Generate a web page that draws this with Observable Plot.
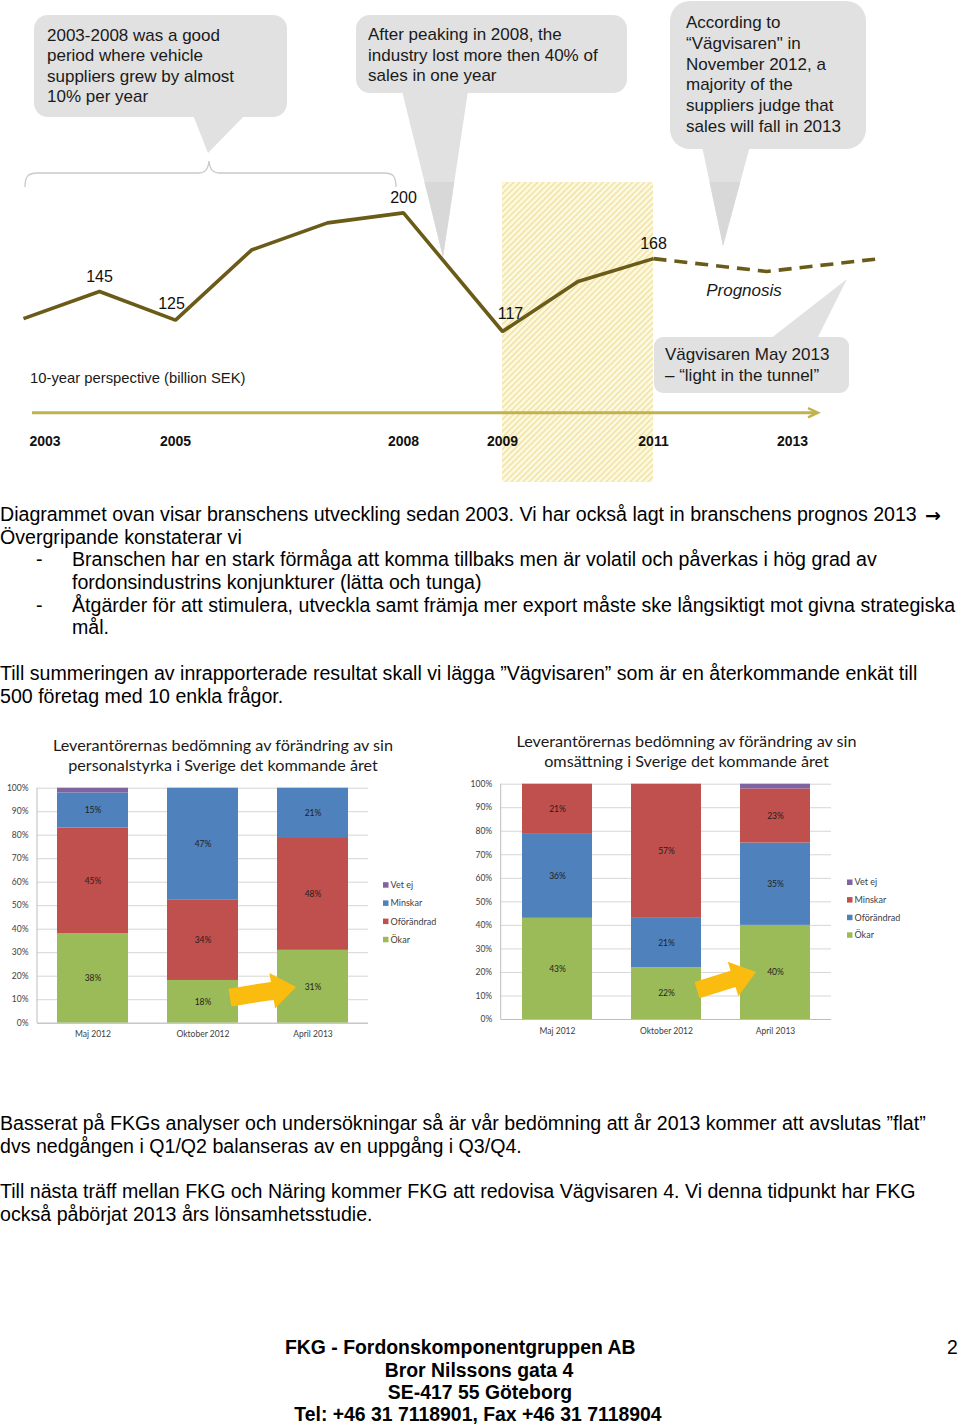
<!DOCTYPE html>
<html><head><meta charset="utf-8">
<script src="https://cdn.jsdelivr.net/npm/d3@7"></script>
<script src="https://cdn.jsdelivr.net/npm/@observablehq/plot@0.6"></script>
<style>
body{margin:0;background:#fff;}
#page{position:relative;width:960px;height:1426px;overflow:hidden;background:#fff;color:#000;}
.abs{position:absolute;white-space:pre;}
</style></head>
<body>
<svg width="0" height="0" style="position:absolute">
  <defs>
    <pattern id="hatch" patternUnits="userSpaceOnUse" width="4.2" height="4.2" patternTransform="rotate(45)">
      <rect width="4.2" height="4.2" fill="#fdf8e0"/>
      <line x1="0.8" y1="0" x2="0.8" y2="4.2" stroke="#f0e3a4" stroke-width="1.5"/>
    </pattern>
  </defs>
</svg>
<div id="page">
  <div id="topChart" class="abs" style="left:0;top:0"></div>
  <div id="staffChart" class="abs" style="left:0;top:730px"></div>
  <div id="salesChart" class="abs" style="left:460px;top:726px"></div>
</div>
<script>
const FONT = "'Liberation Sans', Arial, Helvetica, sans-serif";
const CFONT = "Lato, 'Open Sans', sans-serif";

// ---------- Top chart data (billion SEK) ----------
const years = [2003, 2004, 2005, 2006, 2007, 2008, 2009, 2010, 2011];
const sales = [126, 145, 125, 174, 193, 200, 117, 152, 168];
const prognosisYears = [2011, 2012.5, 2014];
const prognosisSales = [168, 159, 168];
const labeledYears = [2004, 2005, 2008, 2009, 2011];
const axisYears = [2003, 2005, 2008, 2009, 2011, 2013];
const crisisPeriod = [2009, 2011];

// ---------- Survey charts data (%) ----------
const periods = ["Maj 2012", "Oktober 2012", "April 2013"];
const stackOrder = ["Ökar", "Oförändrad", "Minskar", "Vet ej"];
const legendOrder = ["Vet ej", "Minskar", "Oförändrad", "Ökar"];
const pctTicks = [0, 10, 20, 30, 40, 50, 60, 70, 80, 90, 100];

const staffOkar = [38, 18, 31];
const staffOforandrad = [45, 34, 48];
const staffMinskar = [15, 47, 21];
const staffVetEj = [2, 0, 0];

const salesOkar = [43, 22, 40];
const salesOforandrad = [36, 21, 35];
const salesMinskar = [21, 57, 23];
const salesVetEj = [0, 0, 2];

const PURPLE = "#8064a2", BLUE = "#4f81bd", RED = "#c0504d", GREEN = "#9bbb59";
const LINE = "#6b5b18";

// ---------- Top chart ----------
const lineData = years.map((year, i) => ({year, value: sales[i]}));
const progData = prognosisYears.map((year, i) => ({year, value: prognosisSales[i]}));
const labelData = lineData.filter(d => labeledYears.includes(d.year));

function topAnnotations(index, scales, values, dims) {
  const g = d3.create("svg:g").attr("font-family", FONT).attr("text-anchor", "start");
  const bub = "#e1e1e1";
  g.append("path")
    .attr("d", "M25,187 C25,176 28,173 38,173 L198,173 C205,173 208,170 209,161 C210,170 213,173 220,173 L384,173 C393,173 396,176 396,187")
    .attr("fill", "none").attr("stroke", "#c9c9c9").attr("stroke-width", 1.3);
  const bubbles = [
    {x: 34, y: 15, w: 253, h: 102, r: 14, tri: [[193, 115], [245, 115], [208, 153]], tx: 47, base: 40.7, step: 20.4,
      lines: ["2003-2008 was a good", "period where vehicle", "suppliers grew by almost", "10% per year"]},
    {x: 356, y: 15, w: 271, h: 78, r: 14, tri: [[402, 91], [468, 91], [443, 257]], tx: 368, base: 40.3, step: 20.5,
      lines: ["After peaking in 2008, the", "industry lost more then 40% of", "sales in one year"]},
    {x: 670, y: 1, w: 196, h: 148, r: 20, tri: [[702, 146], [750, 146], [723, 246]], tx: 686, base: 28.3, step: 20.7,
      lines: ["According to", "\u201cV\u00e4gvisaren\" in", "November 2012, a", "majority of the", "suppliers judge that", "sales will fall in 2013"]},
    {x: 654, y: 337, w: 195, h: 56, r: 9, tri: [[770, 339], [817, 339], [847, 279]], tx: 665, base: 360, step: 20.7,
      lines: ["V\u00e4gvisaren May 2013", "\u2013 \u201clight in the tunnel\u201d"]}
  ];
  const cutY = 182;
  for (const b of bubbles) {
    g.append("path").attr("d", "M" + b.tri.map(p => p.join(",")).join("L") + "Z").attr("fill", bub);
    // slightly darker lower part of long pointers (below the brace level)
    const [p1, p2, tip] = b.tri;
    if (p1[1] < cutY && tip[1] > cutY) {
      const ix = p => p[0] + (tip[0] - p[0]) * (cutY - p[1]) / (tip[1] - p[1]);
      g.append("path").attr("d", `M${ix(p1)},${cutY}L${ix(p2)},${cutY}L${tip[0]},${tip[1]}Z`).attr("fill", "#d8d8d8");
    }
    g.append("rect").attr("x", b.x).attr("y", b.y).attr("width", b.w).attr("height", b.h)
      .attr("rx", b.r).attr("ry", b.r).attr("fill", bub);
    const t = g.append("text").attr("font-size", 17).attr("fill", "#1a1a1a").attr("text-anchor", "start");
    b.lines.forEach((s, i) => t.append("tspan").attr("x", b.tx).attr("y", b.base + i * b.step).text(s));
  }
  g.append("text").attr("x", 744).attr("y", 296).attr("text-anchor", "middle")
    .attr("font-size", 17).attr("font-style", "italic").attr("fill", "#1a1a1a").text("Prognosis");
  g.append("text").attr("x", 30).attr("y", 383).attr("font-size", 14.8).attr("fill", "#1a1a1a")
    .attr("text-anchor", "start").text("10-year perspective (billion SEK)");
  const x0 = scales.x(2003) + 9, x1 = scales.x(2013) + 14, ya = 412.7;
  g.append("line").attr("x1", x0).attr("x2", x1 - 1).attr("y1", ya).attr("y2", ya)
    .attr("stroke", "#c2b24f").attr("stroke-width", 3);
  g.append("path").attr("d", `M${x1 - 10},${ya - 4.6} L${x1},${ya} L${x1 - 10},${ya + 4.6}`)
    .attr("fill", "none").attr("stroke", "#c2b24f").attr("stroke-width", 2.4);
  return g.node();
}

const yearText = {x: d => d, text: d => String(d), frameAnchor: "bottom", dy: -37, fontWeight: "bold", fontSize: 14, fill: "#111"};
const valueText = {x: "year", y: "value", text: d => String(d.value), fontSize: 16, fill: "#111"};
const topChart = Plot.plot({
  width: 960, height: 485,
  marginTop: 182, marginBottom: 3, marginLeft: 0, marginRight: 0,
  x: {type: "linear", domain: [2003, 2008, 2009, 2011], range: [23, 403, 502, 653], axis: null},
  y: {type: "linear", domain: [117, 200], range: [331, 212.4], axis: null},
  style: {fontFamily: FONT, fontSize: "16px", background: "transparent", overflow: "visible", color: "#111"},
  marks: [
    Plot.rect([crisisPeriod], {x1: d => d[0], x2: d => d[1], fill: "url(#hatch)"}),
    topAnnotations,
    Plot.line(lineData, {x: "year", y: "value", stroke: LINE, strokeWidth: 3.6, strokeLinejoin: "miter", strokeLinecap: "butt"}),
    Plot.line(progData, {x: "year", y: "value", stroke: LINE, strokeWidth: 3.6, strokeDasharray: "13,8", strokeLinecap: "butt"}),
    Plot.text(labelData.filter(d => d.year !== 2009 && d.year !== 2005), {...valueText, dy: -15}),
    Plot.text(labelData.filter(d => d.year === 2005), {...valueText, dy: -16, dx: -4}),
    Plot.text(labelData.filter(d => d.year === 2009), {...valueText, dy: -18, dx: 8}),
    Plot.text(axisYears.slice(1, -1), yearText),
    Plot.text(axisYears.slice(0, 1), {...yearText, textAnchor: "start", dx: 6}),
    Plot.text(axisYears.slice(-1), {...yearText, dx: -12})
  ]
});
document.getElementById("topChart").appendChild(topChart);

// ---------- Survey charts ----------
function buildData(okar, ofor, minskar, vetej) {
  const out = [];
  periods.forEach((p, i) => {
    out.push({period: p, cat: "Ökar", value: okar[i]});
    out.push({period: p, cat: "Oförändrad", value: ofor[i]});
    out.push({period: p, cat: "Minskar", value: minskar[i]});
    out.push({period: p, cat: "Vet ej", value: vetej[i]});
  });
  return out;
}

function decor(cfg) {
  return (index, scales, values, dims) => {
    const g = d3.create("svg:g").attr("font-family", CFONT).attr("text-anchor", "start");
    g.append("line").attr("x1", dims.marginLeft).attr("x2", dims.marginLeft)
      .attr("y1", dims.marginTop).attr("y2", dims.height - dims.marginBottom).attr("stroke", "#bdbdbd");
    const t = g.append("text").attr("font-size", 16.2).attr("fill", "#1a1a1a").attr("text-anchor", "middle");
    cfg.title.forEach((s, i) => t.append("tspan").attr("x", cfg.titleX).attr("y", cfg.titleBase + i * 20.2).text(s));
    legendOrder.forEach((c, i) => {
      const y = cfg.legY + i * cfg.legStep;
      g.append("rect").attr("x", cfg.legX).attr("y", y - 2.8).attr("width", 5.5).attr("height", 5.5)
        .attr("fill", cfg.colors[legendOrder.indexOf(c)]);
      g.append("text").attr("x", cfg.legX + 7.5).attr("y", y).attr("dy", "0.35em").attr("text-anchor", "start")
        .attr("font-size", 9).attr("fill", "#404040").text(c);
    });
    const sx = scales.x, sy = scales.y;
    const bw = typeof sx.bandwidth === "function" ? sx.bandwidth() : 0;
    const a = cfg.arrow;
    const x1 = sx(a.from) + bw + a.dx1, y1 = sy(a.y1);
    const x2 = sx(a.to) + a.dx2, y2 = sy(a.y2);
    const len = Math.hypot(x2 - x1, y2 - y1), ux = (x2 - x1) / len, uy = (y2 - y1) / len;
    const nx = -uy, ny = ux;
    const nk = [x2 - ux * a.hl, y2 - uy * a.hl];
    const pts = [
      [x1 + nx * a.sw, y1 + ny * a.sw], [nk[0] + nx * a.sw, nk[1] + ny * a.sw], [nk[0] + nx * a.hw, nk[1] + ny * a.hw],
      [x2, y2],
      [nk[0] - nx * a.hw, nk[1] - ny * a.hw], [nk[0] - nx * a.sw, nk[1] - ny * a.sw], [x1 - nx * a.sw, y1 - ny * a.sw]
    ];
    g.append("path").attr("d", "M" + pts.map(p => p.join(",")).join("L") + "Z").attr("fill", "#fbbc10");
    return g.node();
  };
}

function surveyChart(data, cfg) {
  return Plot.plot({
    width: 450, height: 320,
    marginTop: cfg.mt, marginBottom: cfg.mb, marginLeft: cfg.ml, marginRight: cfg.mr,
    x: {domain: periods, paddingInner: 0.356, paddingOuter: 0.18, tickSize: 0, tickPadding: 8, label: null},
    y: {domain: [0, 1], ticks: 10, tickFormat: d3.format(".0%"), tickSize: 0, tickPadding: 9, label: null},
    color: {domain: legendOrder, range: cfg.colors},
    style: {fontFamily: CFONT, fontSize: "8.5px", color: "#404040", background: "transparent", overflow: "visible"},
    marks: [
      Plot.ruleY(pctTicks.map(t => t / 100), {stroke: "#d6d6d6"}),
      Plot.barY(data, {x: "period", y: "value", fill: "cat", z: "cat", order: stackOrder, offset: "normalize"}),
      Plot.ruleY([0], {stroke: "#bdbdbd"}),
      Plot.text(data, Plot.stackY({x: "period", y: "value", z: "cat", order: stackOrder, offset: "normalize",
        text: d => (d.cat === "Vet ej" || !d.value) ? null : d.value + "%", fill: "#1e1e1e", fontSize: 8.5})),
      decor(cfg)
    ]
  });
}

const staffChart = surveyChart(buildData(staffOkar, staffOforandrad, staffMinskar, staffVetEj), {
  mt: 57.7, mb: 27.3, ml: 37, mr: 82,
  colors: [PURPLE, BLUE, RED, GREEN],
  title: ["Leverantörernas bedömning av förändring av sin", "personalstyrka i Sverige det kommande året"],
  titleX: 223, titleBase: 21,
  legX: 383, legY: 155, legStep: 18.2,
  arrow: {from: "Oktober 2012", to: "April 2013", dx1: -8, dx2: 19, y1: 0.107, y2: 0.152, sw: 9, hw: 18, hl: 24}
});
document.getElementById("staffChart").appendChild(staffChart);

const salesChart = surveyChart(buildData(salesOkar, salesOforandrad, salesMinskar, salesVetEj), {
  mt: 57.7, mb: 27, ml: 40.7, mr: 79,
  colors: [PURPLE, RED, BLUE, GREEN],
  title: ["Leverantörernas bedömning av förändring av sin", "omsättning i Sverige det kommande året"],
  titleX: 226.5, titleBase: 20.7,
  legX: 387, legY: 156.3, legStep: 17.6,
  arrow: {from: "Oktober 2012", to: "April 2013", dx1: -4, dx2: 16, y1: 0.123, y2: 0.20, sw: 8.5, hw: 18, hl: 24}
});
document.getElementById("salesChart").appendChild(salesChart);

// ---------- Page text ----------
const page = document.getElementById("page");
function place(text, x, baseline, opts = {}) {
  const size = opts.size || 19.6, asc = 0.905, desc = 0.212;
  const d = document.createElement("div");
  d.className = "abs";
  d.textContent = text;
  d.style.fontFamily = opts.family || FONT;
  d.style.fontSize = size + "px";
  d.style.fontWeight = opts.weight || "normal";
  d.style.lineHeight = ((asc + desc) * size) + "px";
  d.style.top = (baseline - asc * size) + "px";
  if (opts.center) { d.style.left = (x - 400) + "px"; d.style.width = "800px"; d.style.textAlign = "center"; }
  else d.style.left = x + "px";
  page.appendChild(d);
}
place("Diagrammet ovan visar branschens utveckling sedan 2003. Vi har också lagt in branschens prognos 2013", 0, 521.7);
place("\u2192", 925, 521.7, {family: "'DejaVu Sans', sans-serif", size: 19, weight: "bold"});
place("Övergripande konstaterar vi", 0, 544.4);
place("-", 36, 567.1);
place("Branschen har en stark förmåga att komma tillbaks men är volatil och påverkas i hög grad av", 72, 567.1);
place("fordonsindustrins konjunkturer (lätta och tunga)", 72, 589.8);
place("-", 36, 612.5);
place("Åtgärder för att stimulera, utveckla samt främja mer export måste ske långsiktigt mot givna strategiska", 72, 612.5);
place("mål.", 72, 635.2);
place("Till summeringen av inrapporterade resultat skall vi lägga \u201dVägvisaren\u201d som är en återkommande enkät till", 0, 680.6);
place("500 företag med 10 enkla frågor.", 0, 703.3);
place("Basserat på FKGs analyser och undersökningar så är vår bedömning att år 2013 kommer att avslutas \u201dflat\u201d", 0, 1130.7);
place("dvs nedgången i Q1/Q2 balanseras av en uppgång i Q3/Q4.", 0, 1153.4);
place("Till nästa träff mellan FKG och Näring kommer FKG att redovisa Vägvisaren 4. Vi denna tidpunkt har FKG", 0, 1198.7);
place("också påbörjat 2013 års lönsamhetsstudie.", 0, 1221.4);
place("FKG - Fordonskomponentgruppen AB", 285, 1355, {weight: "bold", size: 19.4});
place("Bror Nilssons gata 4", 479, 1377.3, {weight: "bold", center: true, size: 19.4});
place("SE-417 55 Göteborg", 480, 1400, {weight: "bold", center: true, size: 19.4});
place("Tel: +46 31 7118901, Fax +46 31 7118904", 478, 1421.7, {weight: "bold", center: true, size: 19.4});
place("2", 947, 1355, {size: 19.4});
</script>
</body></html>
